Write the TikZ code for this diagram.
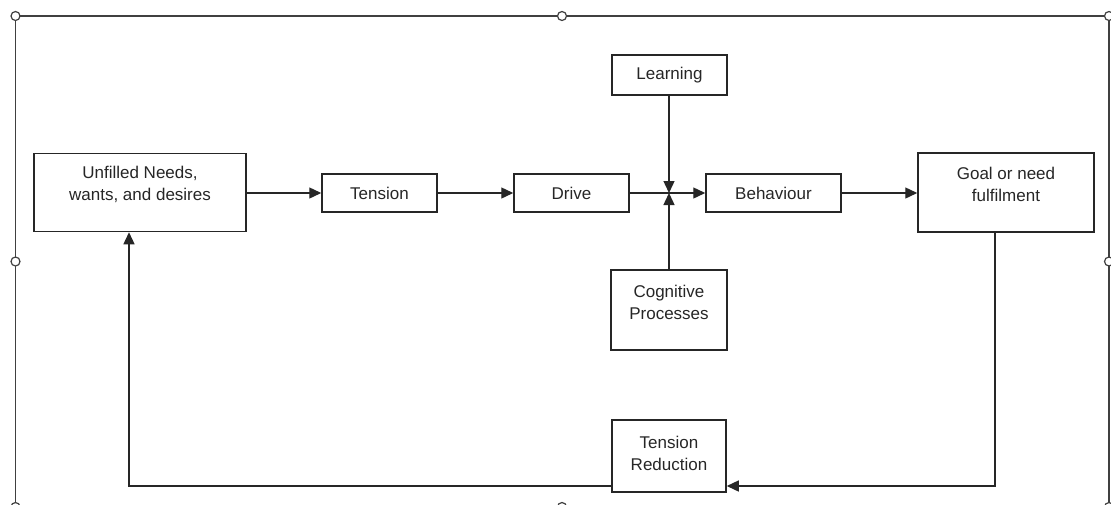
\documentclass[tikz,border=0pt]{standalone}
\usepackage{fontspec}
\setmainfont{Liberation Sans}
\usetikzlibrary{arrows.meta,calc}
\begin{document}
\begin{tikzpicture}[x=1pt,y=-1pt,
  box/.style={draw=black!85,line width=1.5pt,rectangle,inner sep=0pt},
  txt/.style={font=\fontsize{17}{22}\selectfont,align=center,text=black!85,inner sep=0pt},
  conn/.style={draw=black!85,line width=1.4pt},
  arr/.style={conn,-{Triangle[length=12pt,width=11pt]}},
  frameline/.style={draw=black!75,line width=1.6pt},
  handle/.style={circle,draw=black!75,fill=white,line width=1.2pt,minimum size=9pt,inner sep=0pt}]
\useasboundingbox (0,0) rectangle (1111,504);
% frame
\draw[frameline] (15.5,16) rectangle (1109,507);
\node[handle] (h1) at (15.5,16) {};
\node[handle] (h2) at (562,16) {};
\node[handle] (h3) at (1109,16) {};
\node[handle] (h4) at (15.5,261.5) {};
\node[handle] (h5) at (1109,261.5) {};
\node[handle] (h6) at (15.5,507) {};
\node[handle] (h7) at (562,507) {};
\node[handle] (h8) at (1109,507) {};
% boxes
\node[box,minimum width=212pt,minimum height=78pt] (un) at (140,192.5) {};
\node[txt] (unT) at (140,184) {Unfilled Needs,\\wants, and desires};
\node[box,minimum width=115pt,minimum height=38pt] (ten) at (379.5,193) {};
\node[txt] (tenT) at (379.5,193) {Tension};
\node[box,minimum width=115pt,minimum height=38pt] (dri) at (571.5,193) {};
\node[txt] (driT) at (571.5,193) {Drive};
\node[box,minimum width=135pt,minimum height=38pt] (beh) at (773.5,193) {};
\node[txt] (behT) at (773.5,193) {Behaviour};
\node[box,minimum width=176pt,minimum height=79pt] (goal) at (1006,192.5) {};
\node[txt] (goalT) at (1006,184) {Goal or need\\fulfilment};
\node[box,minimum width=115pt,minimum height=40pt] (lea) at (669.5,75) {};
\node[txt] (leaT) at (669.5,75) {Learning};
\node[box,minimum width=116pt,minimum height=80pt] (cog) at (669,310) {};
\node[txt] (cogT) at (669,302) {Cognitive\\Processes};
\node[box,minimum width=114pt,minimum height=72pt] (red) at (669,456) {};
\node[txt] (redT) at (669,453.5) {Tension\\Reduction};
% junction
\coordinate (J) at (669,193);
% connectors
\draw[arr] (un.east |- ten.west) -- (ten.west);
\draw[arr] (ten.east) -- (dri.west);
\draw[arr] (dri.east) -- (beh.west);
\draw[arr] (lea.south -| J) -- (J);
\draw[arr] (cog.north -| J) -- (J);
\draw[arr] (beh.east) -- (goal.west |- beh.east);
\coordinate (g1) at (995,486);
\draw[arr] (goal.south -| g1) -- (g1) -- (red.east |- g1);
\coordinate (u1) at (129,486);
\draw[arr] (red.west |- u1) -- (u1) -- (un.south -| u1);
\end{tikzpicture}
\end{document}
